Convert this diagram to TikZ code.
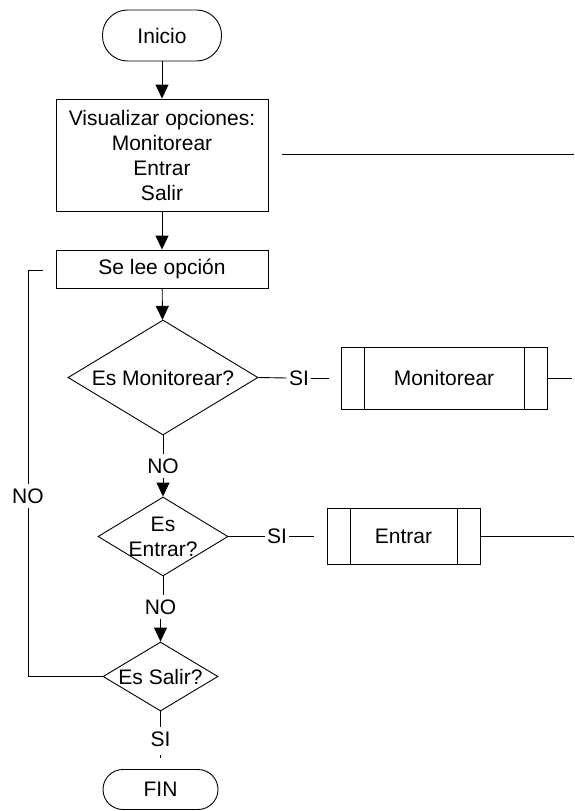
\documentclass[tikz,border=0pt]{standalone}
\usepackage{fontspec}
\setmainfont{Liberation Sans}
\usetikzlibrary{arrows.meta,shapes.geometric}
\tikzset{
  term/.style={draw, rounded corners=#1, inner sep=0pt, align=center},
  term/.default=20pt,
  proc/.style={draw, inner sep=0pt, align=center},
  decis/.style={draw, diamond, shape aspect=1.65, inner sep=-6pt, align=center},
  subproc/.style={draw, inner sep=0pt, align=center,
    path picture={
      \draw ([xshift=23pt]path picture bounding box.north west) -- ([xshift=23pt]path picture bounding box.south west);
      \draw ([xshift=-23pt]path picture bounding box.north east) -- ([xshift=-23pt]path picture bounding box.south east);
    }},
  lbl/.style={inner xsep=2pt, inner ysep=4pt},
  arr/.style={-{Triangle[length=14pt,width=13pt]}},
}

\begin{document}
\begin{tikzpicture}[x=1pt,y=-1pt,line width=0.9pt,font=\fontsize{21}{25}\selectfont]
  \useasboundingbox (0,0) rectangle (574,811);
  % main column
  \node[term=25pt, minimum width=119pt, minimum height=51pt] (inicio) at (162,35.5) {Inicio};
  \node[proc, minimum width=212pt, minimum height=112pt] (visual) at (162,155) {Visualizar opciones:\\Monitorear\\Entrar\\Salir};
  \node[proc, minimum width=212pt, minimum height=38pt] (lee) at (162,269) {Se lee opción};
  \node[decis, minimum width=190pt, minimum height=115pt] (esmon) at (163,377.5) {Es Monitorear?};
  \node[decis, minimum width=130pt, minimum height=79pt] (esent) at (163,536.5) {Es\\Entrar?};
  \node[decis, minimum width=115pt, minimum height=69pt] (essal) at (160.5,676.5) {Es Salir?};
  \node[term=20pt, minimum width=115pt, minimum height=40pt] (fin) at (160.5,789.5) {FIN};
  % sub processes
  \node[subproc, minimum width=206pt, minimum height=62pt] (mon) at (444,378) {Monitorear};
  \node[subproc, minimum width=153pt, minimum height=56pt] (ent) at (403.5,536.5) {Entrar};
  % labels
  \node[lbl] (si1) at (299,378) {SI};
  \node[lbl] (si2) at (277,536.5) {SI};
  \node[lbl] (si3) at (160.5,739) {SI};
  \node[lbl] (no1) at (163,466) {NO};
  \node[lbl] (no2) at (160.5,607) {NO};
  \node[lbl] (no3) at (28,496) {NO};
  \coordinate (vis1) at (282,154.5);
  \coordinate (vis2) at (574,154.5);
  \coordinate (mon0) at (329,378);
  \coordinate (mon1) at (572,378);
  \coordinate (ent0) at (314,536.5);
  \coordinate (ent1) at (574,536.5);
  \coordinate (lazo) at (43,270);
  \coordinate (tick) at (160.5,755);
  % connectors
  \draw[arr] (inicio) -- (visual);
  \draw[arr] (visual) -- (lee);
  \draw[arr] (lee) -- (esmon);
  \draw (vis1) -- (vis2);
  \draw (esmon.south) -- (no1.north);
  \draw[arr] (no1.south) -- (esent.north);
  \draw (esmon.east) -- (si1.west);
  \draw (si1.east) -- (mon0);
  \draw (mon.east) -- (mon1);
  \draw (esent.east) -- (si2.west);
  \draw (si2.east) -- (ent0);
  \draw (ent.east) -- (ent1);
  \draw (esent.south) -- (esent.south |- no2.north);
  \draw[arr] (no2.south) -- (essal.north);
  \draw (essal.west) -| (no3.south);
  \draw (no3.north) |- (lazo);
  \draw (essal.south) -- (si3.north);
  \draw (tick) -- ++(0,2.5);
\end{tikzpicture}
\end{document}
